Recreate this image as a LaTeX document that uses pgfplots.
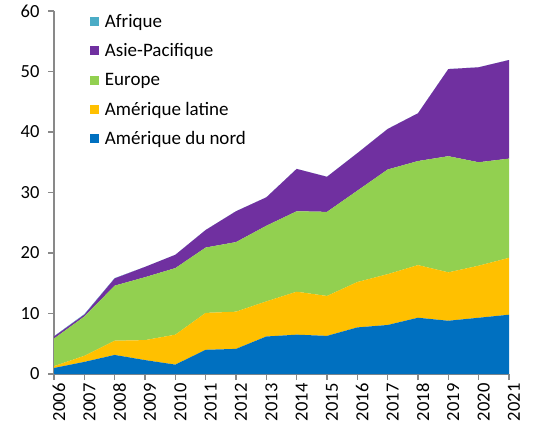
\documentclass[border=0pt]{standalone}
\usepackage{fontspec}
\setmainfont{Carlito}
\usepackage{pgfplots}
\pgfplotsset{compat=1.18}
\usepackage{pgfplotstable}
\definecolor{cAF}{HTML}{4BACC6}
\definecolor{cAP}{HTML}{7030A0}
\definecolor{cEU}{HTML}{92D050}
\definecolor{cLA}{HTML}{FFC000}
\definecolor{cNA}{HTML}{0070C0}
\definecolor{axgray}{HTML}{898989}
\pgfplotstableread{
year NA LA EU AP AF
2006 1.0 0.3 4.55 0.35 0.05
2007 2.0 1.0 6.5 0.3 0.1
2008 3.15 2.35 9.1 1.2 0.05
2009 2.3 3.3 10.4 1.7 0.0
2010 1.55 4.95 11.0 2.2 0.0
2011 4.0 6.1 10.8 2.9 0.0
2012 4.15 6.15 11.5 5.1 0.0
2013 6.2 5.8 12.5 4.7 0.0
2014 6.5 7.1 13.3 7.0 0.0
2015 6.3 6.6 13.9 5.8 0.0
2016 7.7 7.5 15.1 6.2 0.0
2017 8.1 8.4 17.3 6.7 0.0
2018 9.3 8.7 17.2 7.9 0.0
2019 8.8 8.0 19.2 14.4 0.0
2020 9.3 8.6 17.1 15.7 0.0
2021 9.8 9.4 16.4 16.3 0.0
}\data
\begin{document}
\begin{tikzpicture}
\useasboundingbox (0,0) rectangle (533bp,431bp);
\begin{axis}[
  at={(54bp,57bp)}, anchor=south west,
  scale only axis, width=455bp, height=363bp,
  xmin=2006, xmax=2021, ymin=0, ymax=60,
  xtick={2006,...,2021}, ytick={0,10,...,60},
  stack plots=y,
  axis x line*=bottom, axis y line*=left,
  axis line style={axgray, line width=1.5bp, -},
  tick style={axgray, line width=1.5bp},
  tick align=outside, major tick length=6bp,
  /pgf/number format/assume math mode=true,
  /pgf/number format/1000 sep={},
  tick label style={font=\fontsize{18.5bp}{21bp}\selectfont, black},
  xticklabel style={rotate=90, anchor=east, yshift=-5bp},
  yticklabel style={anchor=east, xshift=-5bp},
  legend style={at={(0.072,1.003)}, anchor=north west, draw=none, fill=none,
    font=\fontsize{19bp}{21bp}\selectfont, row sep=11bp},
  legend cell align=left,
  reverse legend,
  legend image code/.code={\fill[#1] (0bp,-4.5bp) rectangle (9bp,4.5bp); \path (13bp,0bp);},
]
\addplot[fill=cNA, draw=none] table[x=year,y=NA] {\data} \closedcycle;
\addplot[fill=cLA, draw=none] table[x=year,y=LA] {\data} \closedcycle;
\addplot[fill=cEU, draw=none] table[x=year,y=EU] {\data} \closedcycle;
\addplot[fill=cAP, draw=none] table[x=year,y=AP] {\data} \closedcycle;
\addplot[fill=cAF, draw=none] table[x=year,y=AF] {\data} \closedcycle;
\legend{Amérique du nord, Amérique latine, Europe, Asie-Pacifique, Afrique}
\end{axis}
\end{tikzpicture}
\end{document}
